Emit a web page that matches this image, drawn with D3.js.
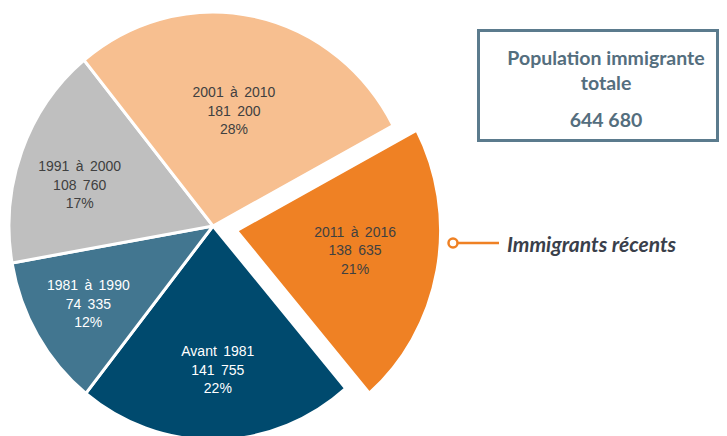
<!DOCTYPE html>
<html>
<head>
<meta charset="utf-8">
<script src="https://cdn.jsdelivr.net/npm/d3@7"></script>
<style>
  body { margin: 0; background: #fff; }
  svg { display: block; }
</style>
</head>
<body>
<div id="chart"></div>
<script>
// ---- Data ----
const periods = ["Avant 1981", "1981 à 1990", "1991 à 2000", "2001 à 2010", "2011 à 2016"];
const counts = [141755, 74335, 108760, 181200, 138635];
const countLabels = ["141 755", "74 335", "108 760", "181 200", "138 635"];
const pctLabels = ["22%", "12%", "17%", "28%", "21%"];
const colors = ["#004a6e", "#427690", "#bfbfbf", "#f7bf90", "#ef8124"];
const textColors = ["#ffffff", "#ffffff", "#404040", "#404040", "#404040"];
const totalTitle = ["Population immigrante", "totale"];
const totalValue = "644 680";
const recentLabel = "Immigrants récents";
const recentIndex = 4;

// ---- Layout ----
const width = 727, height = 436;
const cx = 213, cy = 226;
const radius = 204;
const yStretch = 1.049;
const explode = 24;
const startDeg = 139.4;
// label radius and angle shift (deg) for each slice
const labelPos = [[137, -1], [145, 0], [139, -4], [112, -0.6], [120, -1.7]];

const svg = d3.select("#chart").append("svg")
    .attr("width", width)
    .attr("height", height);

const toRad = d => d * Math.PI / 180;

const pie = d3.pie()
    .sort(null)
    .startAngle(toRad(startDeg))
    .endAngle(toRad(startDeg) + 2 * Math.PI);

const arcs = pie(counts);
const arc = d3.arc().innerRadius(0).outerRadius(radius);

const offset = (d, i) => {
    if (i !== recentIndex) return [0, 0];
    const mid = (d.startAngle + d.endAngle) / 2;
    return [Math.sin(mid) * explode, -Math.cos(mid) * explode];
};

// ---- Slices ----
const pieG = svg.append("g")
    .attr("transform", `translate(${cx},${cy}) scale(1,${yStretch})`);

pieG.selectAll("path")
    .data(arcs)
    .join("path")
    .attr("d", arc)
    .attr("transform", (d, i) => `translate(${offset(d, i)})`)
    .attr("fill", (d, i) => colors[i])
    .attr("stroke", "#fff")
    .attr("stroke-width", 3)
    .attr("vector-effect", "non-scaling-stroke");

// ---- Slice labels ----
const lineGap = 18.3;
const labels = svg.append("g")
    .attr("font-family", "'Liberation Sans', Arial, sans-serif")
    .attr("font-size", 14)
    .attr("text-anchor", "middle")
    .style("word-spacing", "2.5px");

labels.selectAll("text")
    .data(arcs)
    .join("text")
    .attr("fill", (d, i) => textColors[i])
    .each(function (d, i) {
        const mid = (d.startAngle + d.endAngle) / 2 + toRad(labelPos[i][1]);
        const r = labelPos[i][0];
        const [ox, oy] = offset(d, i);
        const x = cx + ox + Math.sin(mid) * r;
        const y = cy + (oy - Math.cos(mid) * r) * yStretch;
        const lines = [periods[i], countLabels[i], pctLabels[i]];
        d3.select(this).selectAll("tspan")
            .data(lines)
            .join("tspan")
            .attr("x", x)
            .attr("y", (t, j) => y + (j - 1) * lineGap)
            .attr("dominant-baseline", "central")
            .text(t => t);
    });

// ---- Total box ----
const box = svg.append("g");
box.append("rect")
    .attr("x", 478.5)
    .attr("y", 30.5)
    .attr("width", 239)
    .attr("height", 110)
    .attr("fill", "#fff")
    .attr("stroke", "#5b7b8d")
    .attr("stroke-width", 3);

const boxText = box.append("text")
    .attr("font-family", "Lato, 'Open Sans', sans-serif")
    .attr("font-weight", "bold")
    .attr("font-size", 19.5)
    .attr("fill", "#546e7e")
    .attr("text-anchor", "middle");

boxText.selectAll("tspan")
    .data(totalTitle.concat([totalValue]))
    .join("tspan")
    .attr("x", 606)
    .attr("y", (d, i) => [57, 82, 119][i])
    .attr("dominant-baseline", "central")
    .text(d => d);

// ---- Recent immigrants callout ----
const callout = svg.append("g");
callout.append("line")
    .attr("x1", 457).attr("x2", 499)
    .attr("y1", 243).attr("y2", 243)
    .attr("stroke", "#ef8124")
    .attr("stroke-width", 2.5);
callout.append("circle")
    .attr("cx", 453).attr("cy", 243).attr("r", 4.5)
    .attr("fill", "#fff")
    .attr("stroke", "#ef8124")
    .attr("stroke-width", 2.5);
callout.append("text")
    .attr("x", 507).attr("y", 243)
    .attr("dominant-baseline", "central")
    .attr("font-family", "Lato, 'Open Sans', sans-serif")
    .attr("font-weight", "bold")
    .attr("font-style", "italic")
    .attr("font-size", 21)
    .attr("fill", "#3a3f4b")
    .text(recentLabel);
</script>
</body>
</html>
